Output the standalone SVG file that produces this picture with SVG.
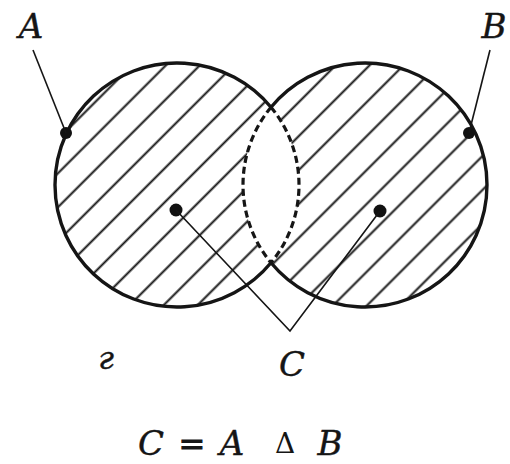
<svg xmlns="http://www.w3.org/2000/svg" width="510" height="464" viewBox="0 0 510 464">
<style>
.outline{fill:none;stroke:#151515;stroke-width:3.4}
.dash{fill:none;stroke:#151515;stroke-width:3.2;stroke-dasharray:7 4}
.lead{fill:none;stroke:#151515;stroke-width:1.6}
.dot{fill:#111}
.lbl{font-family:"DejaVu Serif","Liberation Serif",serif;font-style:italic;fill:#151515;stroke:#151515;stroke-width:0.4;text-anchor:middle}
.up{font-family:"DejaVu Serif","Liberation Serif",serif;fill:#151515;text-anchor:middle}
</style>
<defs>
<pattern id="hatch" patternUnits="userSpaceOnUse" width="40" height="24" patternTransform="rotate(-45)">
<line x1="0" y1="19.4" x2="40" y2="19.4" stroke="#151515" stroke-width="2"/>
</pattern>
</defs>
<rect width="510" height="464" fill="#fff"/>
<g id="hatching">
<path fill="url(#hatch)" fill-rule="evenodd" d="M55,185 a122,122 0 1 0 244,0 a122,122 0 1 0 -244,0 Z M243,185 a122,122 0 1 0 244,0 a122,122 0 1 0 -244,0 Z"/>
</g>
<g id="setA">
<path class="outline" d="M271,107.23 A122,122 0 1 0 271,262.77"/>
<path class="dash" d="M271,107.23 A122,122 0 0 1 271,262.77"/>
<circle class="dot" cx="66" cy="133" r="6"/>
<circle class="dot" cx="176" cy="210" r="6.5"/>
<text class="lbl" x="31" y="38" font-size="34">A</text>
</g>
<g id="setB">
<path class="outline" d="M271,107.23 A122,122 0 1 1 271,262.77"/>
<path class="dash" d="M271,107.23 A122,122 0 0 0 271,262.77"/>
<circle class="dot" cx="469" cy="133" r="6"/>
<circle class="dot" cx="380" cy="211" r="6.5"/>
<text class="lbl" x="494" y="38" font-size="34">B</text>
</g>
<g id="setC">
<text class="lbl" x="292" y="376" font-size="34">C</text>
</g>
<g id="connectors">
<line class="lead" x1="33" y1="50" x2="66" y2="133"/>
<line class="lead" x1="490" y1="50" x2="469" y2="133"/>
<polyline class="lead" points="176,210 290,331 380,211"/>
</g>
<g id="caption">
<text class="lbl" x="106" y="369" font-size="31">г</text>
<text class="lbl" x="151" y="455" font-size="34">C</text>
<text class="up" x="192" y="455" font-size="32" stroke="#151515" stroke-width="1">=</text>
<text class="lbl" x="232" y="455" font-size="34">A</text>
<text class="up" x="285" y="453" font-size="28">Δ</text>
<text class="lbl" x="330" y="455" font-size="34">B</text>
</g>
</svg>
